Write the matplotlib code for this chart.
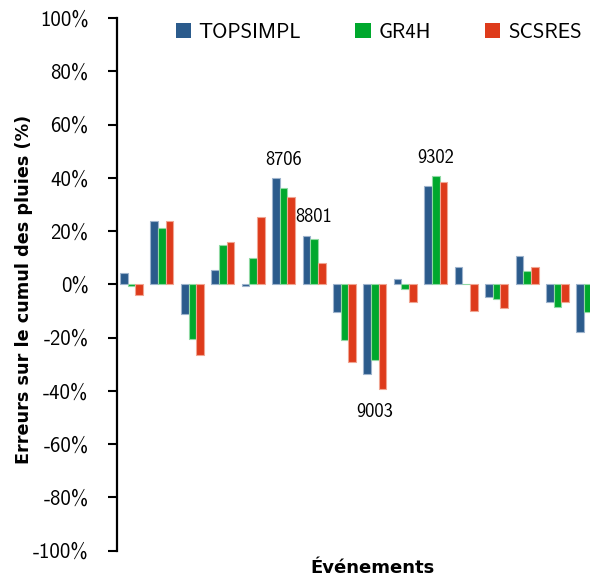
import numpy as np
import matplotlib
matplotlib.use("Agg")
import matplotlib.pyplot as plt
from matplotlib.patches import Patch

# Relative error on cumulative rainfall per event (%)
events = np.arange(16)
topsimpl = [4.4, 23.7, -11.2, 5.4, -0.6, 40.0, 18.1, -10.5, -33.6, 2.0, 37.0, 6.5, -4.9, 10.8, -6.8, -17.8]
gr4h = [-0.6, 21.0, -20.4, 14.8, 10.0, 36.0, 17.1, -21.0, -28.5, -1.7, 40.6, 0.2, -5.7, 4.9, -8.5, -10.5]
scsres = [-4.2, 23.8, -26.4, 15.7, 25.3, 32.9, 8.0, -29.1, -39.2, -6.8, 38.6, -10.0, -8.8, 6.5, -6.8, -12.0]
series_names = ["TOPSIMPL", "GR4H", "SCSRES"]
colors = ["#2B5B8C", "#00A82D", "#DE3B1B"]
edges = ["#9DB3CC", "#8FD9A3", "#F0A592"]

# event labels: (event index, label, y position of text in %)
annotations = [(5, "8706", 46.5), (6, "8801", 25.3), (8, "9003", -48.0), (10, "9302", 47.4)]
yticks = np.arange(-100, 101, 20)

tick_font = "cmss10"
label_font = "DejaVu Sans"

fig = plt.figure(figsize=(5.9, 5.77), dpi=100)
ax = fig.add_axes([117 / 590, 1 - 550.6 / 577, 1 - 117 / 590, (550.6 - 18) / 577])

w = 0.252
for k, (vals, c, e) in enumerate(zip([topsimpl, gr4h, scsres], colors, edges)):
    ax.bar(events + (k - 1) * w, vals, width=w, color=c, edgecolor=e, linewidth=0.8)

for i, txt, ypos in annotations:
    ax.text(i, ypos, txt, ha="center", va="center", fontsize=13.3, family=tick_font)

ax.set_ylim(-100, 100)
ax.set_xlim(-0.477, 15.07)
ax.set_yticks(yticks)
ax.set_yticklabels([f"{v}%" for v in yticks], family=tick_font, fontsize=15)
ax.set_xticks([])
for s in ["top", "right", "bottom"]:
    ax.spines[s].set_visible(False)
ax.spines["left"].set_linewidth(1.6)
ax.tick_params(axis="y", direction="out", length=6.5, width=1.5, pad=14)

ax.set_ylabel("Erreurs sur le cumul des pluies (%)", family=label_font, fontweight="bold", fontsize=12.7)
ax.yaxis.set_label_coords(-0.178, 0.49)
fig.text(372 / 590, 1 - 568 / 577, "Événements", ha="center", va="center",
         family=label_font, fontweight="bold", fontsize=13)

handles = [Patch(facecolor=c, edgecolor="none") for c in colors]
fig.legend(handles, series_names, loc="center left", bbox_to_anchor=(161 / 590, 1 - 32 / 577),
           ncol=3, frameon=False, prop={"family": tick_font, "size": 15},
           handlelength=0.75, handleheight=0.75, handletextpad=0.35, columnspacing=2.6,
           borderpad=0.2)

fig.savefig("out.png", dpi=100)
